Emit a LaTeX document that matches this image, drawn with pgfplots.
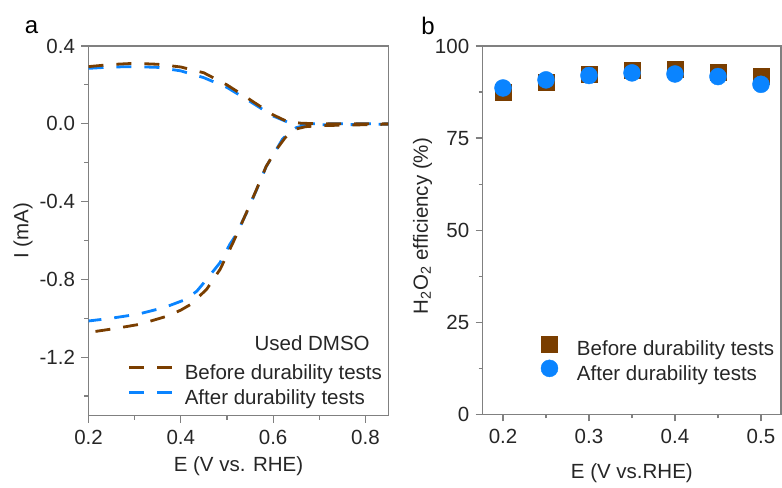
\documentclass[border=0pt]{standalone}
\usepackage{fontspec}
\setmainfont{Liberation Sans}
\usepackage{pgfplots}
\pgfplotsset{compat=1.18}
\definecolor{brn}{RGB}{122,62,0}
\definecolor{blu}{RGB}{10,132,255}
\definecolor{axg}{RGB}{128,128,128}
\definecolor{txt}{RGB}{38,38,38}
\newcommand\fs{\fontsize{20.5bp}{24bp}\selectfont}
\pgfplotsset{
 myax/.style={
  scale only axis,
  axis line style={draw=axg, line width=1.2bp},
  every tick/.style={draw=axg, line width=1.2bp},
  major tick length=7bp, minor tick length=4bp,
  tick align=outside, tick pos=left,
  /pgf/number format/assume math mode=true,
  tick label style={font=\fs, text=txt},
  xticklabel style={yshift=-4bp},
  yticklabel style={xshift=-3bp},
  label style={font=\fs, text=txt},
  legend style={font=\fs, text=txt, draw=none, fill=none, inner sep=0pt, outer sep=0pt,
    nodes={inner sep=0pt, text height=15bp, text depth=5bp}, row sep=5bp},
  legend cell align=left,
 }}
\pgfplotstableread{
x y
0.20 0.294
0.25 0.305
0.30 0.311
0.35 0.306
0.40 0.292
0.45 0.262
0.50 0.200
0.55 0.124
0.60 0.046
0.63 0.012
0.66 0.003
0.70 0.000
0.75 0.000
0.80 0.000
0.85 0.000
0.85 -0.002
0.80 -0.005
0.75 -0.007
0.70 -0.010
0.67 -0.015
0.643 -0.031
0.625 -0.075
0.607 -0.133
0.585 -0.219
0.564 -0.338
0.542 -0.458
0.513 -0.612
0.485 -0.749
0.456 -0.851
0.422 -0.928
0.40 -0.958
0.372 -0.988
0.311 -1.031
0.257 -1.053
0.20 -1.073
}\before
\pgfplotstableread{
x y
0.20 0.285
0.25 0.292
0.30 0.294
0.35 0.290
0.40 0.272
0.45 0.237
0.50 0.187
0.55 0.115
0.60 0.040
0.63 0.010
0.66 0.002
0.70 0.000
0.75 0.000
0.80 0.000
0.85 0.000
0.85 -0.002
0.80 -0.003
0.75 -0.005
0.70 -0.005
0.672 -0.006
0.65 -0.020
0.635 -0.045
0.62 -0.080
0.607 -0.133
0.585 -0.220
0.564 -0.340
0.542 -0.460
0.52 -0.570
0.506 -0.621
0.485 -0.714
0.456 -0.800
0.435 -0.860
0.411 -0.903
0.364 -0.945
0.307 -0.979
0.249 -1.000
0.20 -1.014
}\after
\pgfplotstableread{
x y
0.20 87.4
0.25 90.3
0.30 92.4
0.35 93.5
0.40 93.7
0.45 92.9
0.50 91.9
}\effbefore
\pgfplotstableread{
x y
0.20 88.6
0.25 90.8
0.30 92.0
0.35 92.7
0.40 92.4
0.45 91.7
0.50 89.6
}\effafter
\begin{document}
\begin{tikzpicture}
\useasboundingbox (0bp,0bp) rectangle (782bp,488bp);
\node[font=\fontsize{24bp}{28bp}\selectfont, text=black, inner sep=0pt] at (31.5bp,461bp) {a};
\node[font=\fontsize{24bp}{28bp}\selectfont, text=black, inner sep=0pt] at (428bp,462.5bp) {b};
\begin{axis}[myax, at={(88.5bp,72.5bp)}, anchor=south west,
  width=300bp, height=369.5bp,
  xmin=0.2, xmax=0.85, ymin=-1.5, ymax=0.4,
  xtick={0.2,0.4,0.6,0.8}, minor xtick={0.3,0.5,0.7},
  ytick={-1.2,-0.8,-0.4,0,0.4}, minor ytick={-1.4,-1.0,-0.6,-0.2,0.2},
  xticklabel style={/pgf/number format/.cd, fixed, fixed zerofill, precision=1},
  yticklabel style={/pgf/number format/.cd, fixed, fixed zerofill, precision=1},
  xlabel={E (V vs. RHE)}, ylabel={I (mA)},
  xlabel style={at={(axis description cs:0.5,-0.138)}, anchor=center},
  ylabel style={at={(axis description cs:-0.2183,0.5)}, anchor=center},
  legend style={at={(axis description cs:0.1317,0.139)}, anchor=north west,
    column sep=10bp},
  legend image code/.code={\draw[#1] (0bp,7bp) -- (44bp,7bp);},
  reverse legend,
  ]
\addplot[blu, line width=2.8bp, dash pattern=on 15bp off 13bp] table {\after};
\addlegendentry{After durability tests}
\addplot[brn, line width=2.8bp, dash pattern=on 15bp off 13bp] table {\before};
\addlegendentry{Before durability tests}
\node[anchor=east, font=\fs, text=txt, inner sep=0pt] at (axis description cs:0.938,0.196) {Used DMSO};
\end{axis}
\begin{axis}[myax, at={(482.7bp,73.7bp)}, anchor=south west,
  width=298.3bp, height=368.3bp,
  xmin=0.1764, xmax=0.5233, ymin=0, ymax=100,
  xtick={0.2,0.3,0.4,0.5}, minor xtick={0.25,0.35,0.45},
  ytick={0,25,50,75,100}, minor ytick={12.5,37.5,62.5,87.5},
  xticklabel style={/pgf/number format/.cd, fixed, fixed zerofill, precision=1},
  xlabel={E (V vs.RHE)}, ylabel={H\textsubscript{2}O\textsubscript{2} efficiency (\%)},
  xlabel style={at={(axis description cs:0.5,-0.160)}, anchor=center},
  ylabel style={at={(axis description cs:-0.2018,0.511)}, anchor=center},
  legend style={at={(axis description cs:0.1954,0.2130)}, anchor=north west,
    column sep=19bp, row sep=-1bp},
  legend image code/.code={\draw[#1] plot coordinates {(8bp,7bp)};},
  ]
\addplot[only marks, mark=square*, mark size=8bp, color=brn, fill=brn] table {\effbefore};
\addlegendentry{Before durability tests}
\addplot[only marks, mark=*, mark size=8.5bp, color=blu, fill=blu] table {\effafter};
\addlegendentry{After durability tests}
\end{axis}
\end{tikzpicture}
\end{document}
